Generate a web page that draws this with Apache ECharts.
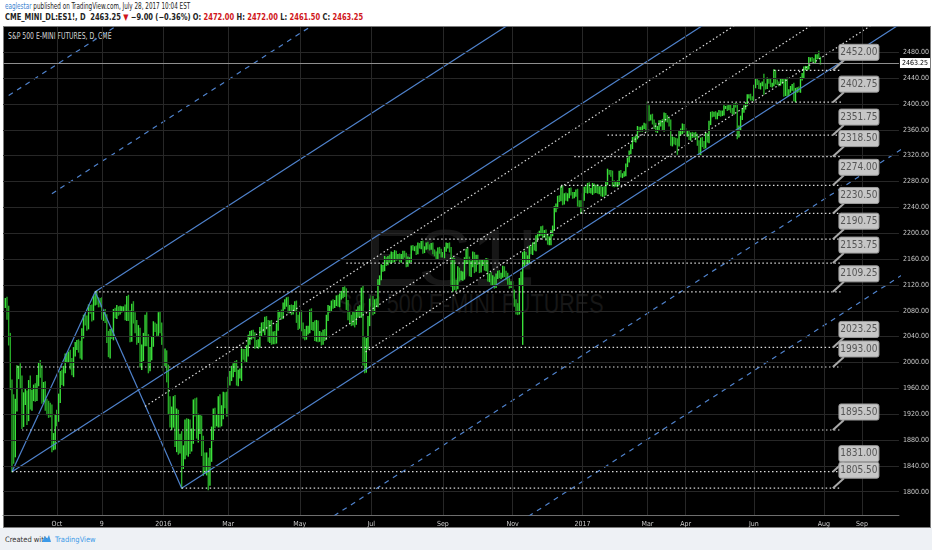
<!DOCTYPE html>
<html>
<head>
<meta charset="utf-8">
<script src="https://cdn.jsdelivr.net/npm/echarts@6/dist/echarts.min.js"></script>
<style>
  body { margin: 0; background: #fff; }
  #wrap { position: relative; width: 932px; height: 550px; overflow: hidden; background: #fff;
          font-family: "Liberation Sans Narrow", "DejaVu Sans Condensed", "Liberation Sans", sans-serif; }
  .hdr { position: absolute; left: 5px; font-size: 8.5px; line-height: 10px; color: #222; white-space: nowrap;
         transform-origin: left center; }
  .red { color: #d0161b; }
  #pane { position: absolute; left: 3px; top: 26px; width: 926px; height: 500px; background: #000; border: 1px solid #7c7c7c; }
  .wm { position: absolute; color: #171717; white-space: nowrap; font-family: "Liberation Sans", sans-serif; }
  #ttl { position: absolute; left: 8px; top: 32px; font-size: 8px; color: #d6d6d6; white-space: nowrap;
         transform: scaleX(0.85); transform-origin: left center; }
  #foot { position: absolute; left: 0; top: 528px; width: 932px; height: 22px; background: #eef1f5; }
  #foot span { position: absolute; top: 7px; font-size: 7.5px; white-space: nowrap; }
  #chart { position: absolute; left: 0; top: 0; width: 932px; height: 550px; }
</style>
</head>
<body>
<div id="wrap">
  <div class="hdr" style="top:1px;transform:scaleX(0.74)"><span style="color:#3b83d1">eaglestar</span> published on TradingView.com, July 28, 2017 10:04 EST</div>
  <div class="hdr" style="top:12px;font-weight:bold;transform:scaleX(0.88)">CME_MINI_DL:ES1!, D&nbsp; 2463.25 <span class="red">▼</span> −9.00 (−0.36%) O: <span class="red">2472.00</span> H: <span class="red">2472.00</span> L: <span class="red">2461.50</span> C: <span class="red">2463.25</span></div>
  <div id="pane"></div>
  <div class="wm" style="left:365px;top:212px;font-size:80px;">ES1!</div>
  <div class="wm" style="left:338px;top:288px;font-size:28px;transform:scaleX(0.77);transform-origin:left top;">S&amp;P 500 E-MINI FUTURES</div>
  <div id="ttl">S&amp;P 500 E-MINI FUTURES, D, CME</div>
  <div id="foot">
    <span style="left:5px;color:#333">Created with</span>
    <svg style="position:absolute;left:40px;top:5px" width="12" height="11" viewBox="0 0 12 11">
      <path d="M2 9 L5 3 L7 6 L9 2 L11 9 Z" fill="#3c9ae8"/>
    </svg>
    <span style="left:55px;color:#3c9ae8">TradingView</span>
  </div>
  <div id="chart"></div>
</div>
<script>
// trading-day index 0 = Jan 4 2016, first bar = Aug 18 2015
const firstIdx = -95;

// daily closes, Aug 18 2015 .. Jul 28 2017
const closes = [
  // Aug 2015
  2093, 2077, 2033, 1968, 1890, 1862, 1937, 1985, 1986, 1969,
  // Sep
  1910, 1945, 1947, 1918, 1965, 1938, 1948, 1957, 1949, 1974, 1991, 1986, 1950, 1959, 1935, 1931, 1925, 1924, 1874, 1877, 1912,
  // Oct
  1917, 1944, 1980, 1973, 1989, 2006, 2008, 2011, 1997, 1987, 2017, 2026, 2027, 2024, 2012, 2046, 2068, 2064, 2059, 2083, 2082, 2072,
  // Nov
  2097, 2103, 2095, 2093, 2092, 2072, 2075, 2068, 2039, 2016, 2046, 2043, 2077, 2074, 2082, 2080, 2082, 2082, 2083, 2073,
  // Dec
  2095, 2072, 2042, 2084, 2069, 2056, 2040, 2045, 2004, 2013, 2035, 2065, 2034, 1997, 2013, 2031, 2056, 2053, 2048, 2070, 2055, 2035,
  // Jan 2016
  2005, 2009, 1982, 1935, 1914, 1916, 1931, 1882, 1914, 1872, 1873, 1851, 1861, 1899, 1869, 1896, 1875, 1885, 1932,
  // Feb
  1931, 1895, 1904, 1907, 1872, 1845, 1844, 1844, 1822, 1857, 1888, 1919, 1910, 1910, 1938, 1914, 1922, 1944, 1940, 1925,
  // Mar
  1971, 1979, 1986, 1992, 1994, 1972, 1982, 1982, 2014, 2012, 2008, 2019, 2033, 2042, 2044, 2042, 2029, 2028, 2029, 2047, 2056, 2052,
  // Apr
  2065, 2058, 2038, 2059, 2034, 2040, 2035, 2054, 2075, 2075, 2073, 2087, 2093, 2095, 2084, 2084, 2080, 2084, 2088, 2068, 2058,
  // May
  2074, 2056, 2044, 2043, 2050, 2051, 2077, 2057, 2057, 2039, 2059, 2040, 2040, 2033, 2045, 2041, 2069, 2083, 2083, 2092, 2090,
  // Jun
  2092, 2098, 2092, 2102, 2105, 2112, 2108, 2089, 2072, 2068, 2064, 2071, 2064, 2076, 2082, 2078, 2106, 2030, 1995, 2029, 2064, 2092,
  // Jul
  2097, 2082, 2093, 2092, 2124, 2131, 2146, 2146, 2158, 2155, 2161, 2158, 2167, 2159, 2169, 2162, 2163, 2160, 2164, 2168,
  // Aug
  2166, 2152, 2159, 2159, 2178, 2176, 2177, 2171, 2181, 2179, 2185, 2173, 2177, 2182, 2179, 2178, 2182, 2170, 2168, 2164, 2175, 2171, 2166,
  // Sep
  2166, 2175, 2181, 2181, 2176, 2122, 2153, 2121, 2120, 2141, 2133, 2133, 2134, 2157, 2171, 2158, 2140, 2153, 2165, 2145, 2162,
  // Oct
  2155, 2144, 2153, 2154, 2147, 2157, 2130, 2133, 2126, 2127, 2120, 2133, 2138, 2135, 2135, 2145, 2137, 2133, 2127, 2120, 2120,
  // Nov
  2106, 2092, 2083, 2080, 2126, 2134, 2158, 2162, 2159, 2159, 2175, 2172, 2182, 2177, 2193, 2198, 2200, 2208, 2197, 2200, 2194,
  // Dec
  2187, 2188, 2200, 2208, 2237, 2242, 2255, 2253, 2268, 2249, 2258, 2254, 2258, 2267, 2261, 2257, 2260, 2265, 2246, 2245, 2236,
  // Jan 2017
  2255, 2268, 2266, 2274, 2266, 2266, 2272, 2267, 2271, 2265, 2269, 2261, 2268, 2262, 2277, 2295, 2294, 2292, 2278, 2276,
  // Feb
  2276, 2278, 2294, 2289, 2290, 2292, 2305, 2313, 2325, 2334, 2346, 2344, 2348, 2362, 2360, 2361, 2364, 2367, 2361,
  // Mar
  2393, 2379, 2380, 2372, 2366, 2360, 2362, 2370, 2371, 2362, 2382, 2378, 2375, 2370, 2341, 2345, 2343, 2341, 2339, 2355, 2358, 2365, 2359,
  // Apr
  2354, 2356, 2348, 2353, 2351, 2353, 2349, 2340, 2324, 2345, 2338, 2334, 2352, 2344, 2370, 2385, 2383, 2385, 2380,
  // May
  2384, 2387, 2384, 2386, 2395, 2395, 2393, 2396, 2390, 2387, 2398, 2397, 2353, 2362, 2378, 2390, 2394, 2400, 2411, 2412, 2409, 2408,
  // Jun
  2427, 2436, 2433, 2426, 2430, 2431, 2429, 2426, 2437, 2435, 2429, 2430, 2450, 2434, 2432, 2431, 2435, 2436, 2416, 2437, 2416, 2420,
  // Jul
  2424, 2428, 2405, 2421, 2423, 2421, 2439, 2444, 2455, 2455, 2456, 2469, 2469, 2468, 2466, 2473, 2474, 2472.25, 2463.25
];

// how far each day's high reaches above its body (points)
const wickUp = [
  6, 8, 10, 12, 5, 60, 6, 10, 8, 12,
  10, 8, 12, 9, 7, 14, 9, 8, 10, 6, 8, 12, 9, 10, 11, 8, 9, 12, 10, 13, 7,
  9, 7, 6, 8, 5, 7, 6, 5, 8, 9, 6, 5, 7, 8, 9, 6, 5, 7, 8, 6, 5, 7,
  5, 6, 7, 5, 6, 8, 5, 7, 6, 9, 5, 6, 5, 7, 6, 4, 5, 4, 3, 6,
  7, 9, 8, 6, 10, 8, 9, 12, 8, 14, 10, 8, 12, 9, 10, 8, 7, 5, 6, 7, 8, 6,
  10, 12, 9, 14, 12, 15, 16, 18, 14, 12, 16, 20, 10, 12, 14, 16, 15, 12, 10,
  12, 14, 16, 12, 10, 14, 15, 16, 8, 10, 12, 9, 10, 8, 9, 12, 11, 10, 9, 14,
  6, 7, 8, 6, 7, 9, 6, 8, 7, 6, 8, 7, 9, 6, 5, 6, 4, 5, 6, 7, 5, 6,
  5, 6, 7, 5, 6, 7, 8, 6, 5, 4, 6, 5, 4, 5, 6, 4, 5, 4, 6, 7, 5,
  5, 6, 5, 7, 6, 5, 4, 6, 5, 7, 6, 5, 8, 6, 5, 6, 4, 5, 4, 3, 5,
  4, 5, 6, 4, 5, 4, 5, 6, 7, 6, 5, 8, 6, 5, 4, 6, 9, 12, 10, 8, 7, 6,
  6, 5, 4, 5, 4, 3, 5, 4, 6, 4, 3, 5, 4, 3, 4, 3, 4, 5, 3, 4,
  4, 3, 4, 3, 2, 3, 2, 3, 4, 3, 2, 3, 2, 3, 4, 3, 2, 3, 4, 3, 2, 3, 4,
  4, 3, 4, 3, 4, 2, 9, 8, 6, 7, 5, 8, 6, 5, 4, 6, 5, 4, 6, 5, 4,
  4, 3, 5, 4, 5, 4, 3, 4, 6, 7, 5, 4, 3, 4, 3, 4, 3, 4, 5, 4, 5,
  5, 6, 5, 8, 4, 6, 12, 10, 8, 6, 5, 4, 3, 4, 3, 2, 3, 2, 3, 4, 5,
  5, 6, 4, 3, 4, 3, 2, 3, 4, 5, 3, 4, 3, 2, 3, 2, 3, 2, 3, 4, 5,
  6, 3, 4, 3, 4, 3, 5, 4, 3, 4, 3, 4, 3, 4, 3, 4, 2, 3, 4, 3,
  4, 3, 2, 3, 2, 3, 2, 3, 2, 3, 2, 3, 2, 3, 2, 3, 2, 3, 2,
  0, 4, 3, 4, 3, 4, 3, 4, 3, 5, 4, 3, 4, 3, 5, 4, 3, 4, 5, 4, 3, 4, 3,
  3, 2, 3, 2, 3, 2, 3, 4, 3, 2, 3, 4, 3, 2, 3, 2, 3, 2, 3,
  2, 3, 2, 3, 2, 1, 2, 3, 2, 3, 2, 3, 3, 4, 3, 2, 3, 2, 3, 2, 3, 2,
  2, 3, 2, 3, 2, 3, 15, 2, 3, 2, 3, 2, 3, 2, 3, 2, 3, 2, 3, 2, 3, 2,
  3, 2, 4, 3, 2, 3, 2, 3, 2, 3, 2, 3, 2, 3, 2, 3, 2, 7.5, 0
];
// how far each day's low reaches below its body (points)
const wickDn = [
  8, 10, 6, 10, 0, 18, 8, 12, 10, 8,
  12, 9, 10, 14, 8, 10, 12, 7, 9, 8, 10, 9, 13, 11, 9, 12, 10, 8, 12, 9, 11,
  10, 8, 6, 7, 9, 5, 6, 8, 7, 6, 9, 7, 6, 8, 5, 7, 8, 6, 9, 7, 6, 8,
  6, 8, 5, 7, 6, 5, 7, 6, 8, 7, 9, 6, 8, 5, 6, 7, 5, 4, 3, 7,
  8, 7, 10, 9, 8, 10, 12, 9, 11, 15, 10, 9, 8, 13, 10, 9, 6, 5, 7, 6, 9, 7,
  18, 10, 12, 15, 14, 18, 16, 12, 20, 14, 12, 0, 15, 10, 12, 14, 16, 12, 10,
  14, 12, 18, 14, 16, 20, 15, 18, 0, 12, 10, 9, 11, 8, 10, 14, 12, 9, 10, 8,
  8, 6, 7, 8, 6, 7, 8, 6, 10, 7, 6, 8, 9, 5, 6, 4, 7, 5, 6, 5, 6, 5,
  9, 6, 5, 7, 6, 5, 6, 5, 4, 5, 6, 5, 4, 6, 7, 5, 6, 5, 4, 6, 7,
  5, 7, 6, 8, 7, 6, 5, 6, 7, 5, 6, 8, 7, 6, 5, 7, 5, 4, 5, 4, 6,
  5, 4, 5, 6, 4, 5, 6, 7, 6, 8, 7, 6, 9, 5, 6, 7, 8, 0, 0, 10, 8, 7,
  5, 8, 6, 5, 6, 4, 3, 5, 4, 5, 4, 3, 5, 4, 3, 4, 3, 4, 5, 3,
  3, 4, 3, 5, 3, 2, 3, 4, 3, 2, 3, 4, 3, 2, 3, 4, 3, 2, 3, 4, 3, 2, 3,
  3, 4, 3, 4, 5, 4, 12, 8, 9, 6, 7, 5, 6, 5, 4, 5, 6, 7, 5, 6, 4,
  3, 5, 4, 3, 4, 5, 4, 5, 7, 6, 5, 4, 3, 4, 5, 3, 4, 5, 6, 5, 4,
  6, 5, 8, 6, 5, 7, 0, 8, 7, 6, 5, 4, 5, 3, 4, 3, 2, 3, 4, 3, 5,
  4, 5, 6, 4, 3, 4, 3, 4, 3, 5, 4, 3, 4, 3, 2, 3, 2, 3, 4, 5, 0,
  5, 4, 3, 4, 3, 4, 6, 5, 4, 3, 4, 3, 4, 5, 3, 2, 3, 4, 5, 4,
  3, 4, 3, 2, 3, 2, 3, 2, 3, 2, 3, 2, 3, 2, 3, 2, 3, 2, 3,
  4, 5, 4, 3, 4, 3, 4, 3, 4, 3, 4, 5, 3, 4, 5, 6, 5, 4, 0, 4, 3, 4, 3,
  3, 4, 3, 4, 3, 2, 3, 4, 0, 3, 4, 3, 2, 3, 4, 2, 3, 2, 3,
  3, 2, 3, 2, 3, 2, 3, 2, 3, 2, 3, 2, 0, 4, 3, 2, 3, 2, 3, 2, 3, 2,
  3, 2, 3, 2, 3, 2, 14, 3, 2, 3, 2, 3, 2, 3, 2, 3, 2, 3, 4, 3, 4, 3,
  2, 3, 0, 2, 3, 2, 3, 2, 3, 2, 3, 2, 3, 2, 3, 2, 3, 2, 1.75
];

// intraday extremes that stick far out [day index, price]
const spikes = [[-91, 1831], [-41, 2109.25], [11, 1805.5], [27, 1803], [120, 1996], [121, 1984],
                [216, 2028], [251, 2230.5], [291, 2402.75], [309, 2322], [322, 2322], [345, 2346], [379, 2405]];

const tickIdx = [-64, -37, 0, 39, 82, 125, 168, 210, 252, 291, 314, 355, 397, 420];
const tickLabels = ["Oct", "9", "2016", "Mar", "May", "Jul", "Sep", "Nov", "2017", "Mar", "Apr", "Jun", "Aug", "Sep"];
const priceTicks = [1800, 1840, 1880, 1920, 1960, 2000, 2040, 2080, 2120, 2160, 2200, 2240, 2280, 2320, 2360, 2400, 2440, 2480];

// pitchfork pivots [day index, price]
const pivotA = [-91, 1831];
const pivotB = [-41, 2109.25];
const pivotC = [11, 1805.5];
// white dotted parallels, start points
const trendStarts = [[-11, 1932], [97.5, 2036], [121.5, 2016]];

// horizontal levels and the day they start
const levelPrices = [2452.00, 2402.75, 2351.75, 2318.50, 2274.00, 2230.50, 2190.75, 2153.75, 2109.25, 2023.25, 1993.00, 1895.50, 1831.00, 1805.50];
const levelStarts = [367, 291, 267, 247, 239, 251, 155, 110, -41, 32, -88, -85, -91, 11];

const lastClose = 2463.25;

// ---- build ----
const UP = "#3ae03a", DOWN = "#27a927", BLUE = "#4f82cc", DOT = "#dcdcdc";
const LEVEL_END = 407.5, TIP_IDX = 402.5;

let candleData = closes.map((c, i) => {
  let idx = firstIdx + i;
  let o = i > 0 ? closes[i - 1] : c;
  let lo = Math.min(o, c) - (wickDn[i] || 0);
  let hi = Math.max(o, c) + (wickUp[i] || 0);
  spikes.forEach((s) => {
    if (s[0] === idx) { lo = Math.min(lo, s[1]); hi = Math.max(hi, s[1]); }
  });
  return [idx, o, c, lo, hi];
});

const M = [(pivotB[0] + pivotC[0]) / 2, (pivotB[1] + pivotC[1]) / 2];
const dir = [M[0] - pivotA[0], M[1] - pivotA[1]];
const ray = (p) => [p, [p[0] + dir[0] * 8, p[1] + dir[1] * 8]];
const prong = (k) => {
  let ref = k > 0 ? pivotB : pivotC, n = Math.abs(k);
  return [M[0] + n * (ref[0] - M[0]), M[1] + n * (ref[1] - M[1])];
};

const seg = (pts, color, type, width) => ({
  type: "line", data: pts, symbol: "none", silent: true, animation: false, z: 4,
  lineStyle: { color: color, type: type, width: width }
});

let series = [];

// grid lines
series.push({
  type: "line", data: [], silent: true, z: 1,
  markLine: {
    symbol: ["none", "none"], silent: true, animation: false, label: { show: false },
    lineStyle: { color: "#272727", type: "solid", width: 1 },
    data: tickIdx.map((v) => ({ xAxis: v })).concat(priceTicks.map((v) => ({ yAxis: v })))
  }
});

// bars
series.push({
  type: "custom", data: candleData, z: 3, animation: false,
  encode: { x: 0, y: [1, 2, 3, 4] },
  renderItem: (params, api) => {
    let x = api.value(0);
    let p1 = api.coord([x, api.value(4)]);
    let p2 = api.coord([x, api.value(3)]);
    let up = api.value(2) >= api.value(1);
    return {
      type: "line",
      shape: { x1: p1[0], y1: p1[1] - 0.5, x2: p2[0], y2: p2[1] + 0.5 },
      style: { stroke: up ? UP : DOWN, lineWidth: 1.4 }
    };
  }
});

// pitchfork
series.push(seg([pivotA, pivotB], BLUE, "solid", 1.2));
series.push(seg([pivotB, pivotC], BLUE, "solid", 1.2));
series.push(seg(ray(pivotA), BLUE, "solid", 1.2));
series.push(seg(ray(pivotB), BLUE, "solid", 1.2));
series.push(seg(ray(pivotC), BLUE, "solid", 1.2));
[2, 3, -2, -3].forEach((k) => series.push(seg(ray(prong(k)), BLUE, [5, 5], 1.2)));
trendStarts.forEach((p) => series.push(seg(ray(p), DOT, [1.5, 2.5], 1.2)));

// current price line
series.push({
  type: "line", data: [], silent: true, z: 4,
  markLine: {
    symbol: ["none", "none"], silent: true, animation: false,
    lineStyle: { color: "#8e8e8e", type: "solid", width: 1 },
    label: {
      show: true, position: "end", distance: 1, formatter: lastClose.toFixed(2),
      backgroundColor: "#fff", color: "#000", padding: [2, 2, 1, 2], fontSize: 7,
      fontFamily: "Liberation Sans Narrow, DejaVu Sans Condensed, Liberation Sans"
    },
    data: [{ yAxis: lastClose }]
  }
});

// horizontal levels with callouts
series.push({
  type: "custom", z: 5, animation: false, clip: false,
  data: levelPrices.map((p, i) => [levelStarts[i], p]),
  encode: { x: 0, y: 1 },
  renderItem: (params, api) => {
    let price = api.value(1);
    let s = api.coord([api.value(0), price]);
    let e = api.coord([LEVEL_END, price]);
    let tip = api.coord([TIP_IDX, price]);
    let bx = tip[0] + 6, by = tip[1] - 26;
    return {
      type: "group",
      children: [
        { type: "line", shape: { x1: s[0], y1: s[1], x2: e[0], y2: e[1] },
          style: { stroke: DOT, lineWidth: 1.2, lineDash: [1.5, 2.5] } },
        { type: "line", shape: { x1: bx + 5, y1: by + 16, x2: tip[0], y2: tip[1] },
          style: { stroke: "#a9a9a9", lineWidth: 2 } },
        { type: "rect", shape: { x: bx, y: by, width: 40, height: 16, r: 2 },
          style: { fill: "#c6c6c6", stroke: "#9c9c9c", lineWidth: 1 } },
        { type: "text", x: bx + 20, y: by + 8,
          style: { text: price.toFixed(2), fill: "#555", fontSize: 10, align: "center", verticalAlign: "middle",
                   fontFamily: "Liberation Sans Narrow, DejaVu Sans Condensed, Liberation Sans" } }
      ]
    };
  }
});

let myChart = echarts.init(document.getElementById("chart"));
myChart.setOption({
  backgroundColor: "transparent",
  animation: false,
  grid: { left: 3, right: 29, top: 27, bottom: 35 },
  xAxis: {
    type: "value", min: -96.4, max: 442.2,
    splitLine: { show: false },
    axisTick: { show: false },
    axisLine: { lineStyle: { color: "#6e6e6e" } },
    axisLabel: {
      customValues: tickIdx, color: "#c9c9c9", fontSize: 7, margin: 6,
      fontFamily: "Liberation Sans Narrow, DejaVu Sans Condensed, Liberation Sans",
      formatter: (v) => tickLabels[tickIdx.indexOf(v)]
    }
  },
  yAxis: {
    type: "value", position: "right", min: 1764, max: 2519, scale: true,
    splitLine: { show: false },
    axisTick: { show: false },
    axisLine: { show: true, lineStyle: { color: "#6e6e6e" } },
    axisLabel: {
      customValues: priceTicks, color: "#c9c9c9", fontSize: 7, margin: 4,
      fontFamily: "Liberation Sans Narrow, DejaVu Sans Condensed, Liberation Sans",
      formatter: (v) => v.toFixed(2)
    }
  },
  series: series
});
</script>
</body>
</html>
